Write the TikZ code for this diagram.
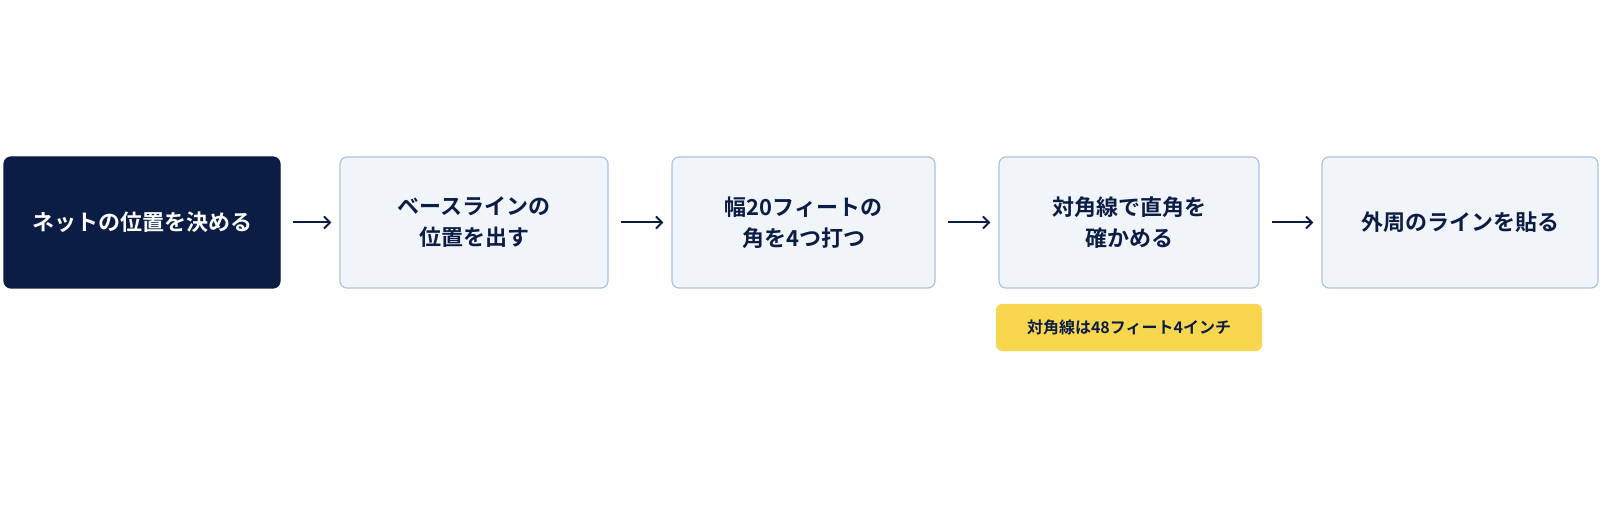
\documentclass[tikz,border=0pt]{standalone}
\usepackage{fontspec}
\setmainfont{Noto Sans CJK JP}[BoldFont={* Bold}]
\usetikzlibrary{arrows.meta}
\definecolor{navy}{HTML}{0B1D45}
\definecolor{boxfill}{HTML}{F1F5FA}
\definecolor{boxline}{HTML}{A9C3DE}
\definecolor{note}{HTML}{F8D74E}
\begin{document}
\begin{tikzpicture}[x=1pt,y=1pt,
 procbox/.style={draw=boxline,line width=1.2pt,fill=boxfill,rounded corners=7pt,minimum height=131pt,align=center,text=navy,font=\fontsize{22}{31}\selectfont\bfseries},
 arr/.style={-{Straight Barb[length=6pt,width=12pt]},line width=2pt,draw=navy,shorten <=12pt,shorten >=8pt}]
\fill[white] (0,0) rectangle (1600,509);
\useasboundingbox (0,0) rectangle (1600,509);
\node[procbox,fill=navy,draw=navy,text=white,minimum width=276pt] (a) at (142,286.5) {ネットの位置を決める};
\node[procbox,minimum width=268pt] (b) at (474,286.5) {ベースラインの\\位置を出す};
\node[procbox,minimum width=263pt] (c) at (803.5,286.5) {幅20フィートの\\角を4つ打つ};
\node[procbox,minimum width=260pt] (d) at (1129,286.5) {対角線で直角を\\確かめる};
\node[procbox,minimum width=276pt] (e) at (1460,286.5) {外周のラインを貼る};
\node[fill=note,rounded corners=6pt,minimum width=266pt,minimum height=47pt,text=navy,font=\fontsize{16}{20}\selectfont\bfseries] (n) at (1129,181.5) {対角線は48フィート4インチ};
\draw[arr] (a) -- (b);
\draw[arr] (b) -- (c);
\draw[arr] (c) -- (d);
\draw[arr] (d) -- (e);
\end{tikzpicture}
\end{document}
